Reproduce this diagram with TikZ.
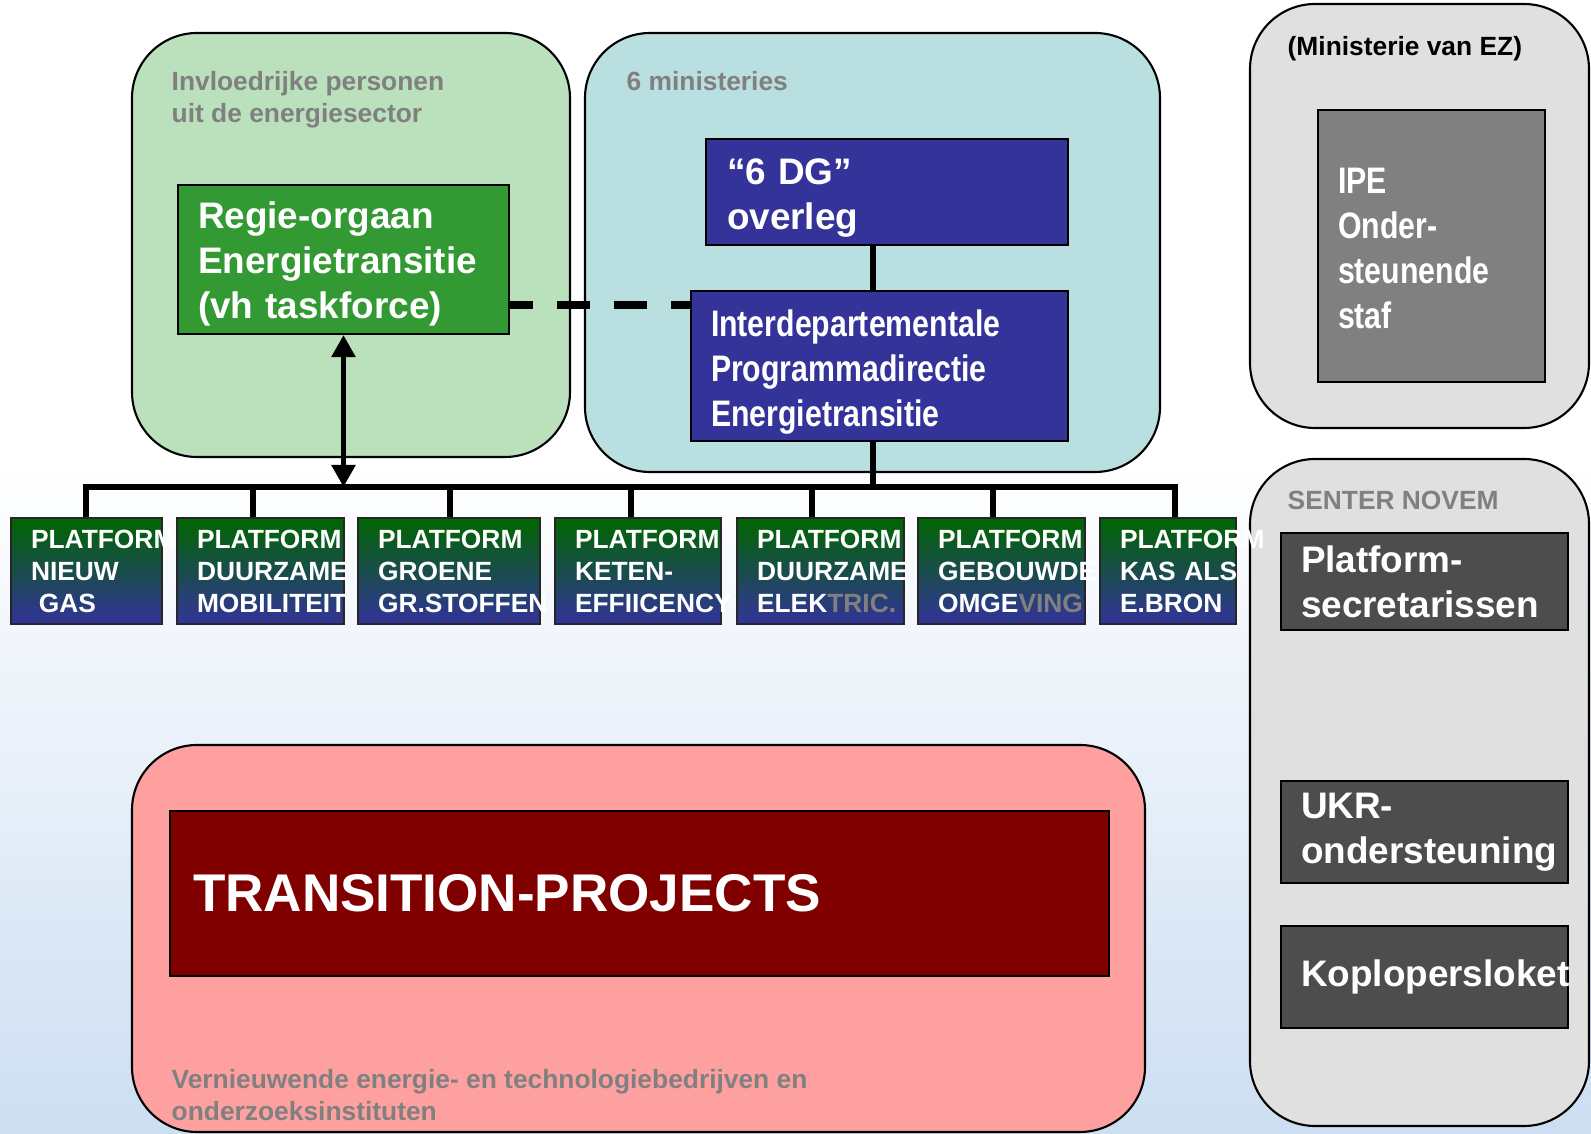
\documentclass[tikz,border=0pt]{standalone}
\usepackage{fontspec}
\setmainfont{Liberation Sans}
\newfontfamily\narrowfont{Liberation Sans}[FakeStretch=0.82]
\usetikzlibrary{arrows.meta}
\hyphenpenalty=10000
\exhyphenpenalty=10000

\definecolor{infgreen}{RGB}{187,224,188}
\definecolor{minteal}{RGB}{185,223,225}
\definecolor{regiegreen}{RGB}{51,153,51}
\definecolor{dgblue}{RGB}{51,51,153}
\definecolor{ezgray}{RGB}{224,224,224}
\definecolor{ipegray}{RGB}{128,128,128}
\definecolor{snbox}{RGB}{77,77,77}
\definecolor{tpink}{RGB}{255,160,160}
\definecolor{tmaroon}{RGB}{128,0,0}
\definecolor{lblgray}{RGB}{128,128,128}
\definecolor{platgreen}{RGB}{0,102,0}
\definecolor{bgblue}{RGB}{205,222,242}

\newcommand{\lblfs}{\fontsize{7.5}{9.1}\selectfont\bfseries}
\newcommand{\boxfs}{\fontsize{10.5}{12.8}\selectfont\bfseries}
\newcommand{\tpfs}{\fontsize{15.1}{18}\selectfont\bfseries}
\newcommand{\dn}[1]{\rule{0pt}{#1}}

\tikzset{>={Triangle[length=2.2mm,width=2.3mm]}}
\tikzset{grp/.style={draw, line width=0.6pt, rounded corners=6.5mm, inner sep=0pt}}
\tikzset{blok/.style={draw, line width=0.6pt, inner ysep=0pt, inner xsep=2mm, align=left, text=white, font=\boxfs}}
\tikzset{plat/.style={draw=black!85, line width=0.6pt, top color=platgreen, bottom color=dgblue, inner ysep=0pt, inner xsep=2mm, minimum height=10.6mm, align=left, text=white, font=\lblfs}}
\tikzset{lbl/.style={inner sep=0pt, anchor=west, align=left, text=lblgray, font=\lblfs}}
\tikzset{con/.style={line width=1.5pt}}

\begin{document}
\begin{tikzpicture}[x=0.1mm, y=-0.1mm]

\useasboundingbox (0,0) rectangle (1591,1134);
\fill[white] (0,0) rectangle (1591,460);
\shade[top color=white, bottom color=bgblue] (0,459) rectangle (1591,1134);

% groups
\node[grp, fill=infgreen, minimum width=43.8mm, minimum height=42.4mm] (infl) at (351,245) {};
\node[grp, fill=minteal, minimum width=57.5mm, minimum height=43.9mm] (mins) at (872.5,252.5) {};
\node[grp, fill=ezgray, minimum width=33.9mm, minimum height=42.4mm] (ez) at (1419.5,216) {};
\node[grp, fill=ezgray, minimum width=33.9mm, minimum height=66.7mm] (sn) at (1419.5,792.5) {};
\node[grp, fill=tpink, minimum width=101.3mm, minimum height=38.7mm] (proj) at (638.5,938.5) {};

\node[lbl] (inflt) at (171,100) {Invloedrijke personen\\uit de energiesector};
\node[lbl] (minst) at (626,81) {6 ministeries};
\node[lbl, text=black] (ezt) at (1287,49) {(Ministerie van EZ)};
\node[lbl] (snt) at (1287,500) {SENTER NOVEM};
\node[lbl] (projt) at (171,1095) {Vernieuwende energie- en technologiebedrijven en\\onderzoeksinstituten};

% boxes
\node[blok, fill=regiegreen, minimum width=33.1mm, minimum height=14.9mm, text width=29.1mm] (regie) at (343.5,259.5) {\dn{3.5mm}Regie-orgaan\\Energietransitie\\(vh taskforce)};
\node[blok, fill=dgblue, inner xsep=2.1mm, minimum width=36.2mm, minimum height=10.6mm, text width=32mm] (dg) at (887,192) {\dn{3.7mm}“6 DG”\\overleg};
\node[blok, fill=dgblue, font=\narrowfont\boxfs, minimum width=37.7mm, minimum height=15mm, text width=33.7mm] (ipd) at (879.5,366) {\dn{3.9mm}Interdepartementale\\Programmadirectie\\Energietransitie};
\node[blok, fill=ipegray, font=\narrowfont\boxfs, minimum width=22.7mm, minimum height=27.2mm, text width=18.7mm] (staf) at (1431.5,246) {\dn{3.1mm}IPE\\Onder-\\steunende\\staf};

\node[blok, fill=snbox, minimum width=28.7mm, minimum height=9.7mm, text width=24.7mm] (psec) at (1424.5,581.5) {Platform-\\secretarissen};
\node[blok, fill=snbox, minimum width=28.7mm, minimum height=10.2mm, text width=24.7mm] (ukr) at (1424.5,832) {UKR-\\ondersteuning};
\node[blok, fill=snbox, minimum width=28.7mm, minimum height=10.2mm, text width=24.7mm] (kop) at (1424.5,977) {Koplopersloket};

\node[blok, fill=tmaroon, font=\tpfs, inner xsep=2.3mm, minimum width=93.9mm, minimum height=16.5mm, text width=89.3mm] (tp) at (639.5,893.5) {TRANSITION-PROJECTS};

% connectors
\coordinate (stem) at (873,487);
\coordinate (dashy) at (0,305);
\coordinate (b1) at (86,487);
\coordinate (b2) at (253,487);
\coordinate (b3) at (450,487);
\coordinate (b4) at (631,487);
\coordinate (b5) at (812,487);
\coordinate (b6) at (993,487);
\coordinate (b7) at (1175,487);

\node[plat, minimum width=15.1mm, text width=11.1mm] (p1) at (86.5,571) {PLATFORM\\NIEUW\\\hspace*{0.3em}GAS};
\node[plat, minimum width=16.7mm, text width=12.7mm] (p2) at (260.5,571) {PLATFORM\\DUURZAME\\MOBILITEIT};
\node[plat, minimum width=18.2mm, text width=14.2mm] (p3) at (449,571) {PLATFORM\\GROENE\\GR.STOFFEN};
\node[plat, minimum width=16.6mm, text width=12.6mm] (p4) at (638,571) {PLATFORM\\KETEN-\\EFFIICENCY};
\node[plat, minimum width=16.7mm, text width=12.7mm] (p5) at (820.5,571) {PLATFORM\\DUURZAME\\ELEK{\color{lblgray}TRIC.}};
\node[plat, minimum width=16.7mm, text width=12.7mm] (p6) at (1001.5,571) {PLATFORM\\GEBOUWDE\\OMGE{\color{lblgray}VING}};
\node[plat, minimum width=13.6mm, text width=9.6mm] (p7) at (1168,571) {PLATFORM\\KAS~ALS\\E.BRON};

\draw[con] (b1 |- p1.north) -- (b1) -- (b7) -- (b7 |- p7.north);
\draw[con] (b2) -- (b2 |- p2.north);
\draw[con] (b3) -- (b3 |- p3.north);
\draw[con] (b4) -- (b4 |- p4.north);
\draw[con] (b5) -- (b5 |- p5.north);
\draw[con] (b6) -- (b6 |- p6.north);

\draw[con] (stem |- dg.south) -- (stem |- ipd.north);
\draw[con] (stem |- ipd.south) -- (stem);
\draw[con, <->] (regie.south) -- (regie.south |- stem);
\draw[con, line width=2pt, dash pattern=on 3.3mm off 2.4mm, dash phase=1mm] (regie.east |- dashy) -- (ipd.west |- dashy);

\end{tikzpicture}
\end{document}
